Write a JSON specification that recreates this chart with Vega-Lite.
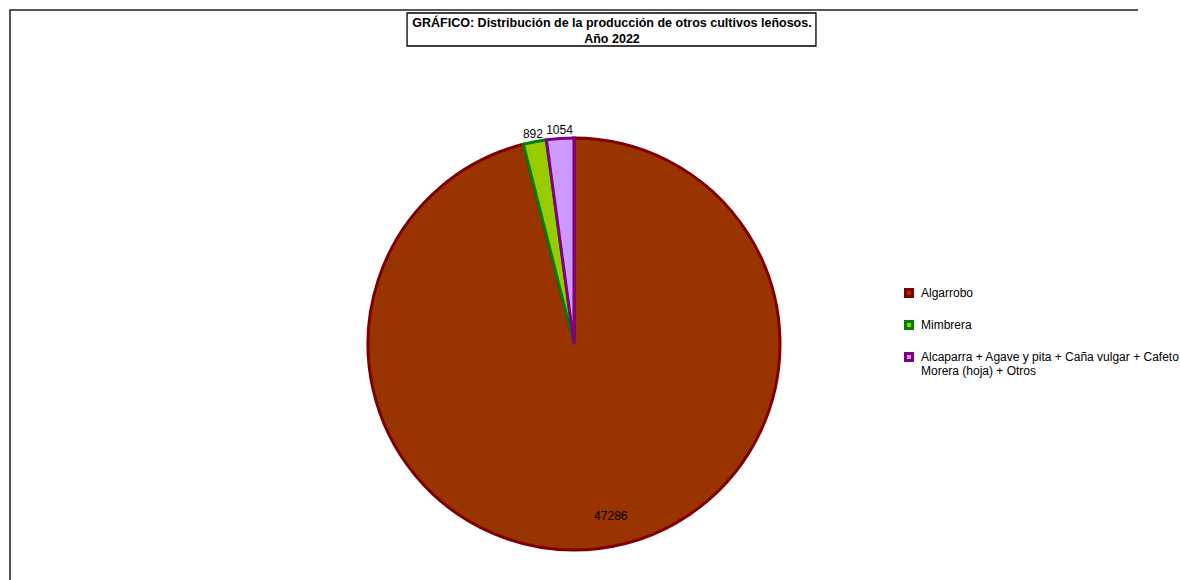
{
  "$schema": "https://vega.github.io/schema/vega-lite/v6.json",
  "width": 1128,
  "height": 668,
  "autosize": {"type": "none"},
  "padding": {"left": 10, "top": 10, "right": 42, "bottom": -98},
  "background": "white",
  "config": {
    "font": "Liberation Sans",
    "view": {"stroke": "#222", "strokeWidth": 1.5, "strokeDash": [1128, 1796, 668]}
  },
  "title": {
    "text": ["GRÁFICO: Distribución de la producción de otros cultivos leñosos.", "Año 2022"],
    "anchor": "middle",
    "frame": "group",
    "orient": "top",
    "baseline": "top",
    "offset": -35,
    "dx": 38,
    "fontSize": 12.5,
    "fontWeight": "bold",
    "lineHeight": 16,
    "color": "#000"
  },
  "data": {
    "values": [
      {"cultivo": "Algarrobo", "produccion": 47286, "orden": 1},
      {"cultivo": "Mimbrera", "produccion": 892, "orden": 2},
      {"cultivo": "Alcaparra + Agave y pita + Caña vulgar + Cafeto Morera (hoja) + Otros", "produccion": 1054, "orden": 3}
    ]
  },
  "layer": [
    {
      "data": {"values": [{"caja": "título"}]},
      "mark": {"type": "rect", "fill": null, "stroke": "#000", "strokeWidth": 1.3},
      "encoding": {
        "x": {"datum": 0.3520, "type": "quantitative", "scale": {"domain": [0, 1]}, "axis": null},
        "x2": {"datum": 0.7145},
        "y": {"datum": 0.0045, "type": "quantitative", "scale": {"domain": [0, 1], "reverse": true}, "axis": null},
        "y2": {"datum": 0.0539}
      }
    },
    {
      "mark": {"type": "arc", "outerRadius": 206, "strokeWidth": 3, "strokeJoin": "miter"},
      "encoding": {
        "theta": {"field": "produccion", "type": "quantitative", "stack": true},
        "order": {"field": "orden", "type": "quantitative"},
        "color": {
          "field": "cultivo", "type": "nominal",
          "scale": {
            "domain": ["Algarrobo", "Mimbrera", "Alcaparra + Agave y pita + Caña vulgar + Cafeto Morera (hoja) + Otros"],
            "range": ["#993300", "#99CC00", "#CC99FF"]
          },
          "legend": {
            "title": null,
            "orient": "none",
            "legendX": 893,
            "legendY": 277,
            "symbolType": "square",
            "symbolSize": 49,
            "symbolStrokeWidth": 3,
            "labelFontSize": 12,
            "labelColor": "#000",
            "labelOffset": 6,
            "labelLimit": 400,
            "rowPadding": 12,
            "labelExpr": "length(datum.label) > 20 ? ['Alcaparra + Agave y pita + Caña vulgar + Cafeto', 'Morera (hoja) + Otros'] : datum.label"
          }
        },
        "stroke": {
          "field": "cultivo", "type": "nominal",
          "scale": {
            "domain": ["Algarrobo", "Mimbrera", "Alcaparra + Agave y pita + Caña vulgar + Cafeto Morera (hoja) + Otros"],
            "range": ["#800000", "#008000", "#800080"]
          },
          "legend": {
            "title": null,
            "orient": "none",
            "legendX": 893,
            "legendY": 277,
            "symbolType": "square",
            "symbolSize": 49,
            "symbolStrokeWidth": 3,
            "labelFontSize": 12,
            "labelColor": "#000",
            "labelOffset": 6,
            "labelLimit": 400,
            "rowPadding": 12,
            "labelExpr": "length(datum.label) > 20 ? ['Alcaparra + Agave y pita + Caña vulgar + Cafeto', 'Morera (hoja) + Otros'] : datum.label"
          }
        }
      }
    },
    {
      "mark": {"type": "text", "radius": 216, "dy": 2, "fontSize": 12, "color": "#000"},
      "encoding": {
        "theta": {"field": "produccion", "type": "quantitative", "stack": true},
        "order": {"field": "orden", "type": "quantitative"},
        "text": {"condition": {"test": "datum.produccion < 5000", "field": "produccion", "type": "quantitative", "format": "d"}, "value": ""}
      }
    },
    {
      "mark": {"type": "text", "radius": 176, "dx": 15, "dy": -3, "fontSize": 12, "color": "#000"},
      "encoding": {
        "theta": {"field": "produccion", "type": "quantitative", "stack": true},
        "order": {"field": "orden", "type": "quantitative"},
        "text": {"condition": {"test": "datum.produccion >= 5000", "field": "produccion", "type": "quantitative", "format": "d"}, "value": ""}
      }
    }
  ]
}
